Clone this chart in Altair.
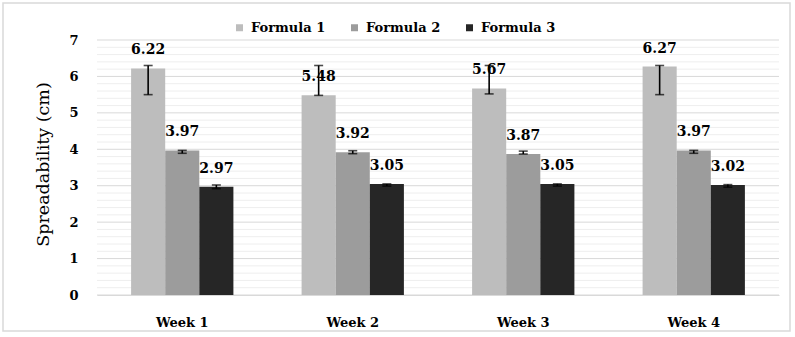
import altair as alt
import pandas as pd

weeks = ["Week 1", "Week 2", "Week 3", "Week 4"]
formulas = ["Formula 1", "Formula 2", "Formula 3"]
values = {
    "Formula 1": [6.22, 5.48, 5.67, 6.27],
    "Formula 2": [3.97, 3.92, 3.87, 3.97],
    "Formula 3": [2.97, 3.05, 3.05, 3.02],
}
err_low = {
    "Formula 1": [5.50, 5.48, 5.52, 5.50],
    "Formula 2": [3.89, 3.88, 3.87, 3.89],
    "Formula 3": [2.92, 2.99, 2.99, 2.96],
}
err_high = {
    "Formula 1": [6.30, 6.30, 6.30, 6.30],
    "Formula 2": [3.97, 3.96, 3.95, 3.97],
    "Formula 3": [3.02, 3.05, 3.05, 3.03],
}
major_grid = [0, 1, 2, 3, 4, 5, 6, 7]
minor_grid = [round(i * 0.2, 1) for i in range(1, 35) if i % 5 != 0]

rows = []
for f in formulas:
    for i, w in enumerate(weeks):
        rows.append({"week": w, "formula": f, "value": values[f][i],
                     "lo": err_low[f][i], "hi": err_high[f][i],
                     "label": f"{values[f][i]:.2f}"})
df = pd.DataFrame(rows)

W, H = 682, 255
FONT = "DejaVu Serif"

x_enc = alt.X("week:N", sort=weeks,
              scale=alt.Scale(paddingInner=0.4, paddingOuter=0.2),
              axis=alt.Axis(title=None, labelAngle=0, ticks=False, domain=True,
                            domainColor="#d9d9d9", labelFont=FONT, labelFontWeight="bold",
                            labelFontSize=13, labelColor="#000", labelPadding=21, grid=False))
xo = alt.XOffset("formula:N", sort=formulas)
y_scale = alt.Scale(domain=[0, 7], nice=False)
y_axis = alt.Axis(values=major_grid, tickCount=8, title="Spreadability (cm)", grid=False, ticks=False,
                  domain=False, labelOverlap=False, labelFlush=False,
                  labelFont=FONT, labelFontWeight="bold", labelFontSize=13,
                  labelColor="#000", labelPadding=19, titleFont=FONT, titleFontWeight="normal",
                  titleFontSize=17.5, titleColor="#000", titleX=-54, titleY=124,
                  titleAngle=-90, titleAlign="center", titleBaseline="middle")

minor = alt.Chart(pd.DataFrame({"g": minor_grid})).mark_rule(color="#eeeeee", strokeWidth=1).encode(
    y=alt.Y("g:Q", scale=y_scale, axis=y_axis))
major = alt.Chart(pd.DataFrame({"g": major_grid})).mark_rule(color="#d9d9d9", strokeWidth=1).encode(
    y=alt.Y("g:Q", axis=y_axis))

base = alt.Chart(df)
bars = base.mark_bar().encode(
    x=x_enc, xOffset=xo,
    y=alt.Y("value:Q", axis=y_axis),
    color=alt.Color("formula:N", sort=formulas,
                    scale=alt.Scale(domain=formulas, range=["#bdbdbd", "#9c9c9c", "#262626"]),
                    legend=alt.Legend(title=None, orient="none", direction="horizontal",
                                      legendX=136, legendY=-19, symbolType="square", symbolSize=49,
                                      symbolStrokeWidth=0, labelFont=FONT, labelFontWeight="bold",
                                      labelFontSize=13, labelColor="#000", labelOffset=5,
                                      columnPadding=22)))
err = base.mark_rule(color="#000", strokeWidth=1.6).encode(
    x=alt.X("week:N", sort=weeks), xOffset=xo, y=alt.Y("lo:Q", axis=y_axis), y2="hi:Q")
cap_lo = base.mark_tick(color="#000", thickness=1.6, size=9).encode(
    x=alt.X("week:N", sort=weeks), xOffset=xo, y=alt.Y("lo:Q", axis=y_axis))
cap_hi = base.mark_tick(color="#000", thickness=1.6, size=9).encode(
    x=alt.X("week:N", sort=weeks), xOffset=xo, y=alt.Y("hi:Q", axis=y_axis))
labels = base.mark_text(font=FONT, fontWeight="bold", fontSize=14, color="#000",
                        dy=-18, baseline="middle", align="center").encode(
    x=alt.X("week:N", sort=weeks), xOffset=xo, y=alt.Y("value:Q", axis=y_axis), text="label:N")

frame = alt.Chart(pd.DataFrame({"a": [0]})).mark_rect(fill=None, stroke="#d9d9d9", strokeWidth=1.5).encode(
    x=alt.value(-94), x2=alt.value(W + 11), y=alt.value(-37), y2=alt.value(H + 36))

chart = alt.layer(minor, major, bars, err, cap_lo, cap_hi, labels, frame).properties(
    width=W, height=H,
    autosize=alt.AutoSizeParams(type="none"),
    padding={"left": 97, "top": 40, "right": 16, "bottom": 42},
    background="white",
).configure_view(stroke=None).configure_axisY(labelOverlap=False)

chart.save("out.html", embed_options={"renderer": "svg", "actions": False})
